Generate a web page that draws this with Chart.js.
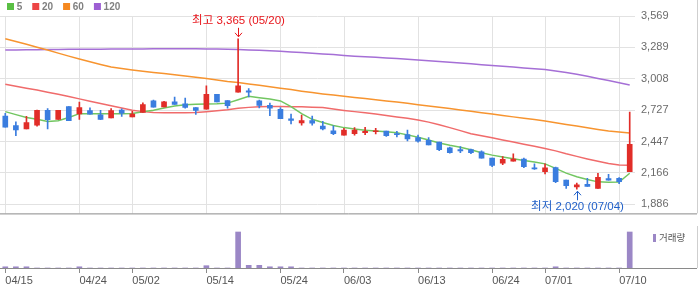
<!DOCTYPE html>
<html>
<head>
<meta charset="utf-8">
<script src="https://cdn.jsdelivr.net/npm/chart.js@4.4.1/dist/chart.umd.min.js"></script>
<style>
    html, body { margin: 0; padding: 0; background: #fff; }
    #wrap { position: relative; width: 700px; height: 289px; overflow: hidden; }
    #priceChart { position: absolute; left: 0; top: 0; }
    #volChart { position: absolute; left: 0; top: 226px; }
</style>
</head>
<body>
<div id="wrap">
    <canvas id="priceChart" width="700" height="226"></canvas>
    <canvas id="volChart" width="700" height="63"></canvas>
</div>
<script>
/* ---------- data ---------- */
const dates = [
    '04/15','04/16','04/17','04/18','04/19','04/22','04/23','04/24','04/25','04/26','04/29','04/30',
    '05/02','05/03','05/07','05/08','05/09','05/10','05/13','05/14','05/16','05/17','05/20','05/21',
    '05/22','05/23','05/24','05/27','05/28','05/29','05/30','05/31',
    '06/03','06/04','06/05','06/07','06/10','06/11','06/12','06/13','06/14','06/17','06/18','06/19',
    '06/20','06/21','06/24','06/25','06/26','06/27','06/28',
    '07/01','07/02','07/03','07/04','07/05','07/08','07/09','07/10','07/11'
];
const tickDates = ['04/15','04/24','05/02','05/14','05/24','06/03','06/13','06/24','07/01','07/10'];
const priceTicks = [1886, 2166, 2447, 2727, 3008, 3289, 3569];

const opens  = [2675,2590,2559,2593,2725,2644,2759,2694,2723,2686,2658,2728,2666,2706,2810,2757,2801,2784,2751,2736,
                2869,2812,2888,2900,2810,2770,2734,2649,2613,2633,2585,2542,2504,2517,2525,2534,2540,2515,2509,2481,
                2458,2441,2391,2374,2374,2354,2298,2253,2270,2289,2208,2177,2213,2101,2040,2065,2028,2116,2118,2177];
const highs  = [2698,2622,2672,2728,2742,2725,2759,2799,2748,2725,2742,2740,2717,2793,2818,2805,2844,2835,2751,2945,
                2869,2812,3365,2919,2818,2790,2751,2692,2683,2675,2627,2588,2565,2571,2574,2565,2540,2537,2548,2504,
                2481,2441,2396,2402,2380,2363,2298,2312,2337,2298,2247,2247,2219,2101,2076,2118,2163,2154,2124,2711];
const lows   = [2574,2500,2559,2585,2559,2644,2633,2644,2692,2641,2658,2672,2666,2706,2753,2757,2779,2745,2689,2736,
                2801,2745,2888,2846,2748,2677,2652,2605,2593,2593,2551,2509,2504,2504,2509,2514,2492,2487,2453,2441,
                2416,2365,2343,2348,2337,2298,2222,2239,2270,2213,2197,2158,2078,2028,2020,2045,2028,2101,2070,2177];
const closes = [2576,2551,2616,2725,2641,2725,2633,2751,2692,2644,2723,2700,2692,2776,2753,2801,2779,2751,2725,2869,
                2801,2768,2945,2888,2770,2745,2652,2635,2633,2610,2559,2517,2548,2548,2537,2542,2500,2509,2470,2450,
                2416,2374,2348,2363,2346,2298,2234,2287,2289,2222,2202,2211,2087,2051,2059,2045,2126,2101,2087,2422];

const ma5   = [2714,2687,2662,2645,2626,2633,2662,2696,2696,2694,2694,2696,2698,2713,2727,2746,2765,2776,2780,2783,
               2784,2790,2820,2852,2839,2827,2810,2759,2696,2645,2616,2590,2571,2558,2548,2540,2533,2525,2506,2485,
               2460,2434,2413,2395,2373,2347,2325,2308,2293,2278,2263,2247,2207,2164,2131,2107,2086,2082,2084,2163];
const ma20  = [2959,2941,2924,2907,2888,2869,2849,2828,2807,2787,2766,2746,2727,2714,2707,2703,2703,2704,2707,2713,
               2721,2731,2744,2752,2757,2759,2759,2758,2757,2754,2751,2738,2725,2714,2703,2692,2679,2666,2654,2639,
               2620,2596,2571,2544,2517,2498,2481,2461,2443,2423,2405,2385,2363,2337,2314,2291,2270,2250,2236,2234];
const ma60  = [3366,3341,3316,3290,3265,3237,3210,3185,3160,3136,3113,3099,3086,3075,3064,3054,3043,3032,3021,3010,
               2997,2983,2974,2962,2950,2936,2924,2911,2897,2884,2872,2862,2852,2841,2831,2820,2810,2799,2788,2776,
               2765,2754,2742,2729,2717,2704,2692,2680,2667,2655,2643,2630,2614,2599,2585,2569,2554,2540,2531,2523];
const ma120 = [3265,3266,3267,3268,3269,3270,3271,3271,3272,3272,3273,3274,3275,3275,3276,3276,3276,3276,3276,3275,
               3274,3272,3270,3266,3262,3258,3254,3248,3243,3237,3230,3224,3216,3210,3205,3200,3194,3189,3183,3176,
               3169,3162,3156,3149,3142,3134,3127,3120,3113,3105,3098,3091,3077,3064,3049,3030,3010,2992,2973,2953];

const volumes = [12,12,12,0,0,0,0,12,0,0,0,0,0,0,0,0,0,0,0,23,
                 0,0,360,27,27,12,12,12,0,0,0,0,0,0,0,0,0,0,0,0,
                 0,0,0,0,0,0,0,0,0,0,0,0,12,0,0,0,0,0,0,360];

/* ---------- style ---------- */
const FONT = "'Liberation Sans', 'Noto Sans CJK KR', Arial, sans-serif";
const UP = '#e12d28';
const DOWN = '#3a7ddf';
const GRID = '#e2e2e2';
const FRAME = '#8a8a8a';

const candleColor = c => closes[c.dataIndex] >= opens[c.dataIndex] ? UP : DOWN;

function keepDateTicks(scale) {
    scale.ticks = scale.ticks.filter(t => tickDates.includes(dates[t.value]));
}

function arrow(ctx, x, from, to) {
    const dir = Math.sign(to - from);
    ctx.beginPath();
    ctx.moveTo(x, from);
    ctx.lineTo(x, to);
    ctx.moveTo(x - 3.5, to - dir * 4);
    ctx.lineTo(x, to);
    ctx.lineTo(x + 3.5, to - dir * 4);
    ctx.stroke();
}

const fmt = v => v.toLocaleString('en-US');

// legend of the moving averages, top left
const maLegend = {
    id: 'maLegend',
    afterDraw(chart) {
        const ctx = chart.ctx;
        ctx.save();
        ctx.font = 'bold 10px ' + FONT;
        ctx.textBaseline = 'middle';
        let x = 7;
        chart.data.datasets.filter(d => d.type === 'line').forEach(d => {
            ctx.fillStyle = d.legendColor;
            ctx.fillRect(x, 3, 7, 7);
            x += 9.7;
            ctx.fillStyle = '#808080';
            ctx.fillText(d.label, x, 7);
            x += ctx.measureText(d.label).width + 10;
        });
        ctx.restore();
    }
};

// vertical date lines inside the price panel
const dateLines = {
    id: 'dateLines',
    beforeDatasetsDraw(chart) {
        const ctx = chart.ctx;
        const xs = chart.scales.x;
        const { top, bottom } = chart.chartArea;
        ctx.save();
        ctx.lineWidth = 1;
        ctx.strokeStyle = GRID;
        ctx.beginPath();
        xs.ticks.forEach(t => {
            const x = Math.round(xs.getPixelForValue(t.value)) + 0.5;
            ctx.moveTo(x, top);
            ctx.lineTo(x, bottom);
        });
        ctx.stroke();
        ctx.restore();
    }
};

// highest / lowest markers
const extremes = {
    id: 'extremes',
    afterDatasetsDraw(chart) {
        const ctx = chart.ctx;
        const xs = chart.scales.x, ys = chart.scales.y;
        const hi = highs.indexOf(Math.max(...highs));
        const lo = lows.indexOf(Math.min(...lows));
        ctx.save();
        ctx.lineWidth = 1;
        ctx.font = '11.5px ' + FONT;
        ctx.textAlign = 'center';
        ctx.textBaseline = 'middle';

        let px = Math.round(xs.getPixelForValue(hi)) + 0.5;
        let py = ys.getPixelForValue(highs[hi]);
        ctx.strokeStyle = ctx.fillStyle = '#e8151b';
        arrow(ctx, px, py - 11, py - 2);
        ctx.fillText('최고 ' + fmt(highs[hi]) + ' (' + dates[hi] + ')', px, py - 18);

        px = Math.round(xs.getPixelForValue(lo)) + 0.5;
        py = ys.getPixelForValue(lows[lo]);
        ctx.strokeStyle = ctx.fillStyle = '#1f5fc8';
        arrow(ctx, px, py + 11, py + 2);
        ctx.fillText('최저 ' + fmt(lows[lo]) + ' (' + dates[lo] + ')', px, py + 18);
        ctx.restore();
    }
};

// panel borders
const panelFrame = {
    id: 'panelFrame',
    afterDraw(chart) {
        const ctx = chart.ctx;
        const y = chart.chartArea.bottom + 0.5;
        ctx.save();
        ctx.lineWidth = 1;
        ctx.strokeStyle = FRAME;
        ctx.beginPath();
        ctx.moveTo(0, y);
        ctx.lineTo(chart.width - 3, y);
        ctx.stroke();
        ctx.strokeStyle = '#cfcfcf';
        ctx.beginPath();
        ctx.moveTo(chart.width - 2.5, 0);
        ctx.lineTo(chart.width - 2.5, chart.chartArea.bottom);
        ctx.stroke();
        ctx.restore();
    }
};

// volume label, top right of the volume panel
const volLegend = {
    id: 'volLegend',
    afterDraw(chart) {
        const ctx = chart.ctx;
        const ds = chart.data.datasets[0];
        const x = chart.chartArea.right + 18;
        const y = chart.chartArea.top + 8;
        ctx.save();
        ctx.fillStyle = ds.backgroundColor;
        ctx.fillRect(x, y, 3, 8);
        ctx.fillStyle = '#555';
        ctx.font = '9.5px ' + FONT;
        ctx.textBaseline = 'middle';
        ctx.fillText(ds.label, x + 6, y + 4);
        ctx.restore();
    }
};

/* ---------- price chart ---------- */
const lineSet = (label, data, color, legendColor, order) => ({
    type: 'line', label, data, order,
    borderColor: color, legendColor, borderWidth: 1.5,
    pointRadius: 0, tension: 0, fill: false
});

new Chart(document.getElementById('priceChart'), {
    type: 'bar',
    data: {
        labels: dates,
        datasets: [
            { type: 'bar', label: 'body', data: opens.map((o, i) => [o, closes[i]]),
              backgroundColor: candleColor, barThickness: 5, grouped: false, minBarLength: 1, order: 0 },
            { type: 'bar', label: 'wick', data: lows.map((l, i) => [l, highs[i]]),
              backgroundColor: candleColor, barThickness: 1, grouped: false, order: 0 },
            lineSet('5', ma5, '#72c661', '#5abf44', 1),
            lineSet('20', ma20, '#f06b6b', '#ec4545', 2),
            lineSet('60', ma60, '#f7942f', '#f5881f', 3),
            lineSet('120', ma120, '#a56fd6', '#9d5fd3', 4)
        ]
    },
    options: {
        responsive: false,
        animation: false,
        devicePixelRatio: 1,
        layout: { padding: { top: 16, left: 0, right: 0, bottom: 0 } },
        plugins: { legend: { display: false }, tooltip: { enabled: false } },
        scales: {
            x: {
                offset: true,
                grid: { display: false },
                border: { display: false },
                ticks: { display: false, autoSkip: false },
                afterBuildTicks: keepDateTicks,
                afterFit: s => { s.height = 1; }
            },
            y: {
                position: 'right',
                min: 1804,
                max: 3569,
                afterBuildTicks: s => { s.ticks = priceTicks.map(v => ({ value: v })); },
                grid: { color: GRID, lineWidth: 1, drawTicks: false },
                border: { display: false },
                ticks: { padding: 6, color: '#6b6b6b', font: { family: FONT, size: 11 }, callback: v => fmt(v) },
                afterFit: s => { s.width = 65; }
            }
        }
    },
    plugins: [dateLines, maLegend, extremes, panelFrame]
});

/* ---------- volume chart ---------- */
new Chart(document.getElementById('volChart'), {
    type: 'bar',
    data: {
        labels: dates,
        datasets: [{ label: '거래량', data: volumes, backgroundColor: '#9b87c6', barThickness: 5 }]
    },
    options: {
        responsive: false,
        animation: false,
        devicePixelRatio: 1,
        layout: { padding: 0 },
        plugins: { legend: { display: false }, tooltip: { enabled: false } },
        scales: {
            x: {
                offset: true,
                grid: { offset: false, drawOnChartArea: false, drawTicks: true, tickLength: 5, color: FRAME },
                border: { display: false },
                ticks: { autoSkip: false, maxRotation: 0, align: 'start', padding: 1, color: '#555',
                         font: { family: FONT, size: 11 } },
                afterBuildTicks: keepDateTicks,
                afterFit: s => { s.height = 21; }
            },
            y: {
                position: 'right',
                min: 0,
                max: Math.max(...volumes) * 42 / 36,
                grid: { display: false },
                border: { display: false },
                ticks: { display: false },
                afterFit: s => { s.width = 65; }
            }
        }
    },
    plugins: [panelFrame, volLegend]
});
</script>
</body>
</html>
